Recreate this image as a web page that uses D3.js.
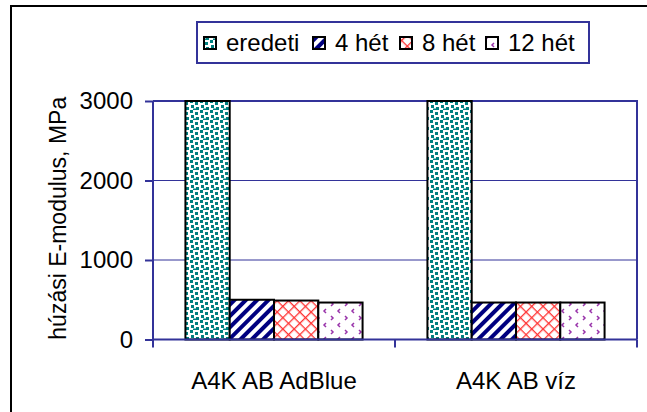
<!DOCTYPE html>
<html><head><meta charset="utf-8">
<script src="https://cdn.jsdelivr.net/npm/d3@7"></script>
<style>body{margin:0;background:#fff}svg{display:block;font-family:Arial,"Liberation Sans",sans-serif}</style>
</head><body><svg id="c" width="647" height="412"></svg>
<script>
const categories = ["A4K AB AdBlue", "A4K AB víz"];
const seriesNames = ["eredeti", "4 hét", "8 hét", "12 hét"];
const eredeti = [3000, 3000];
const het4 = [500, 465];
const het8 = [490, 465];
const het12 = [465, 465];
const yTicks = [0, 1000, 2000, 3000];
const yLabel = "húzási E-modulus, MPa";

(function(){
const values = [eredeti, het4, het8, het12];
const svg = d3.select("#c");
const blue = "#333399";
const defs = svg.append("defs");

// confetti (teal)
const p0 = defs.append("pattern").attr("id","p0").attr("patternUnits","userSpaceOnUse").attr("width",10).attr("height",10);
p0.append("rect").attr("width",10).attr("height",10).attr("fill","#fff");
[[0,0],[5,2],[1,5],[6,7],[3,8.5]].forEach(([x,y])=>p0.append("rect").attr("x",x).attr("y",y).attr("width",3).attr("height",3).attr("fill","#008080"));
// diagonal stripes (navy)
const p1 = defs.append("pattern").attr("id","p1").attr("patternUnits","userSpaceOnUse").attr("width",8).attr("height",8).attr("patternTransform","rotate(45)");
p1.append("rect").attr("width",8).attr("height",8).attr("fill","#fff");
p1.append("rect").attr("width",4).attr("height",8).attr("fill","#000080");
// crosshatch (red)
const p2 = defs.append("pattern").attr("id","p2").attr("patternUnits","userSpaceOnUse").attr("width",8).attr("height",8).attr("patternTransform","rotate(45)");
p2.append("rect").attr("width",8).attr("height",8).attr("fill","#fff");
p2.append("rect").attr("width",1.3).attr("height",8).attr("fill","#ff3333");
p2.append("rect").attr("width",8).attr("height",1.3).attr("fill","#ff3333");
// chevrons (purple)
const p3 = defs.append("pattern").attr("id","p3").attr("patternUnits","userSpaceOnUse").attr("width",14).attr("height",14);
p3.append("rect").attr("width",14).attr("height",14).attr("fill","#fff");
p3.append("path").attr("d","M4,1 L2,3 L4,5").attr("fill","none").attr("stroke","#9933aa").attr("stroke-width",1.5);
p3.append("path").attr("d","M9,8 L11,10 L9,12").attr("fill","none").attr("stroke","#9933aa").attr("stroke-width",1.5);
const fills = ["url(#p0)","url(#p1)","url(#p2)","url(#p3)"];

// outer frame (clipped beyond image)
svg.append("rect").attr("x",11).attr("y",6).attr("width",700).attr("height",500).attr("fill","none").attr("stroke","#000").attr("stroke-width",2);

const pl = 153, pr = 637, pt = 101, pb = 339.5;
const x0 = d3.scaleBand().domain(categories).range([pl, pr]).paddingInner(0).paddingOuter(0);
const groupPad = 0.134;
const x1 = d3.scaleBand().domain(seriesNames).range([x0.bandwidth()*groupPad, x0.bandwidth()*(1-groupPad)]);
const y = d3.scaleLinear().domain([0, 3000]).range([pb, pt]);

// gridlines
svg.append("g").selectAll("line").data(yTicks.filter(d=>d>0)).join("line")
  .attr("x1",pl).attr("x2",pr).attr("y1",d=>y(d)).attr("y2",d=>y(d))
  .attr("stroke",blue).attr("stroke-width",1);
svg.append("line").attr("x1",pr).attr("x2",pr).attr("y1",pt-1).attr("y2",pb).attr("stroke",blue).attr("stroke-width",2);
svg.append("line").attr("x1",pl).attr("x2",pr+1).attr("y1",pt).attr("y2",pt).attr("stroke",blue).attr("stroke-width",2);

// bars
const g = svg.append("g");
seriesNames.forEach((s,i)=>{
  g.selectAll(null).data(categories).join("rect")
    .attr("x",c=>x0(c)+x1(s)).attr("width",x1.bandwidth())
    .attr("y",(c,j)=>y(values[i][j])).attr("height",(c,j)=>pb-y(values[i][j]))
    .attr("fill",fills[i]).attr("stroke","#000").attr("stroke-width",2);
});

// y axis
const yAxis = svg.append("g").attr("transform",`translate(${pl},0)`)
  .call(d3.axisLeft(y).tickValues(yTicks).tickSize(8).tickPadding(12).tickFormat(d3.format("d")));
yAxis.select(".domain").attr("stroke",blue).attr("stroke-width",2).attr("d",`M0,${pt}V${pb}`);
yAxis.selectAll(".tick line").attr("stroke",blue).attr("stroke-width",2);
yAxis.selectAll("text").attr("font-size",24).attr("fill","#000").attr("font-family","Arial,'Liberation Sans',sans-serif");

// x axis
const xAxis = svg.append("g").attr("transform",`translate(0,${pb})`)
  .call(d3.axisBottom(x0).tickSize(0).tickPadding(32));
xAxis.select(".domain").attr("stroke",blue).attr("stroke-width",2).attr("d",`M${pl},0H${pr}`);
xAxis.selectAll("text").attr("font-size",24).attr("fill","#000").attr("font-family","Arial,'Liberation Sans',sans-serif");
svg.append("g").selectAll("line").data([pl, pl+x0.step(), pr]).join("line")
  .attr("x1",d=>d).attr("x2",d=>d).attr("y1",pb).attr("y2",pb+8).attr("stroke",blue).attr("stroke-width",2);

// y label
svg.append("text").attr("transform",`translate(66,${(pt+pb)/2 - 2}) rotate(-90)`)
  .attr("text-anchor","middle").attr("font-size",23).text(yLabel);

// legend
svg.append("rect").attr("x",197).attr("y",22).attr("width",392).attr("height",41).attr("fill","#fff").attr("stroke",blue).attr("stroke-width",2);
const legX = [204, 313, 400, 486];
seriesNames.forEach((s,i)=>{
  svg.append("rect").attr("x",legX[i]).attr("y",37).attr("width",12).attr("height",12).attr("fill",fills[i]).attr("stroke","#000").attr("stroke-width",2);
  svg.append("text").attr("x",legX[i]+22).attr("y",51).attr("font-size",24).text(s);
});
})();
</script></body></html>
